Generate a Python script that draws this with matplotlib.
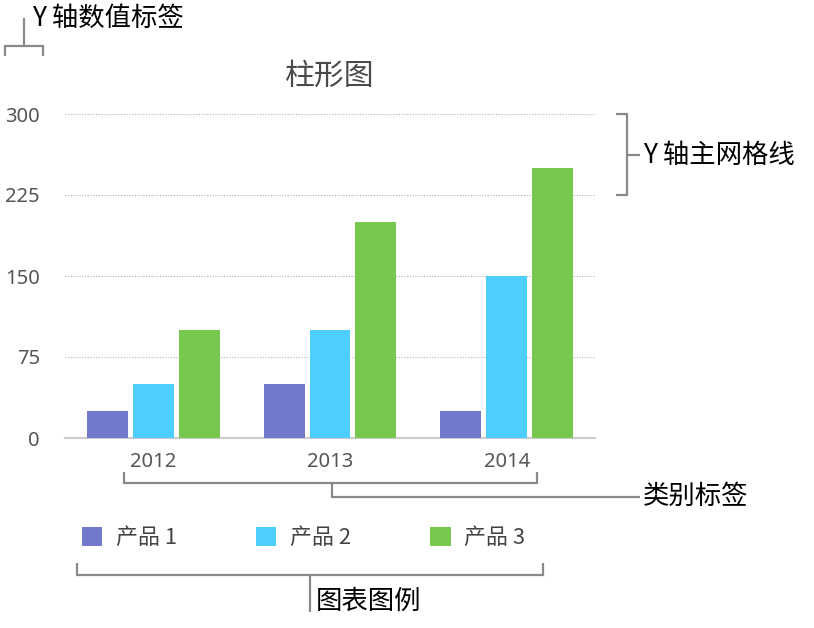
import matplotlib
matplotlib.use('Agg')
import matplotlib.pyplot as plt
import numpy as np
from matplotlib.lines import Line2D

plt.rcParams['font.family'] = ['Noto Sans CJK SC', 'DejaVu Sans']

# data
years = ['2012', '2013', '2014']
series_names = ['产品 1', '产品 2', '产品 3']
product1 = [25, 50, 25]
product2 = [50, 100, 150]
product3 = [100, 200, 250]
y_ticks = [0, 75, 150, 225, 300]
colors = ['#7278CC', '#4FCEFC', '#78C850']

W, H = 814, 628
fig = plt.figure(figsize=(W / 100, H / 100), dpi=100)
fig.patch.set_facecolor('white')


def fx(x):
    return x / W


def fy(y):
    return 1 - y / H


# axes placed in pixel terms: x 65..595, y 114..438
ax = fig.add_axes([fx(65), fy(438), (595 - 65) / W, (438 - 114) / H])

x = np.arange(len(years))
bw = 0.232
step = 0.26
for i, vals in enumerate([product1, product2, product3]):
    ax.bar(x + (i - 1) * step, vals, width=bw, color=colors[i],
           label=series_names[i], zorder=3)

ax.set_xlim(-0.5, 2.5)
ax.set_ylim(0, 300)
ax.set_yticks(y_ticks)
ax.set_yticklabels([str(v) for v in y_ticks], family='Noto Sans')
ax.set_xticks(x)
ax.set_xticklabels(years, family='Noto Sans')
ax.tick_params(axis='both', length=0, labelsize=14.5, labelcolor='#555555')
ax.tick_params(axis='y', pad=18)
ax.tick_params(axis='x', pad=10)

for s in ['top', 'right', 'left']:
    ax.spines[s].set_visible(False)
ax.spines['bottom'].set_color('#cccccc')
ax.spines['bottom'].set_linewidth(1.5)
ax.yaxis.grid(True, linestyle=(0, (1, 1.5)), color='#b0b0b0', linewidth=0.8, zorder=0)
ax.set_axisbelow(True)

fig.text(fx(330), fy(76), '柱形图', fontsize=21.5, color='#4a4a4a',
         ha='center', va='center')

leg = ax.legend(loc='center left', bbox_to_anchor=(fx(82), fy(538)),
                bbox_transform=fig.transFigure, ncol=3, frameon=False,
                fontsize=15.8, handlelength=0.93, handleheight=1.0,
                handletextpad=0.6, columnspacing=3.62, borderaxespad=0,
                borderpad=0)
for t in leg.get_texts():
    t.set_color('#444444')

# annotation brackets
bc = '#8a8a8a'
lw = 1.6


def seg(pts):
    xs = [fx(p[0]) for p in pts]
    ys = [fy(p[1]) for p in pts]
    fig.add_artist(Line2D(xs, ys, color=bc, linewidth=lw,
                          transform=fig.transFigure,
                          solid_joinstyle='miter', solid_capstyle='butt'))


ann_fs = 19

# Y axis value labels
seg([(5, 56), (5, 46), (43, 46), (43, 56)])
seg([(24, 46), (24, 18)])
fig.text(fx(32), fy(18), 'Y 轴数值标签', fontsize=ann_fs, color='black',
         ha='left', va='center')

# Y major gridlines
seg([(616, 114), (627, 114), (627, 195), (616, 195)])
seg([(627, 155), (640, 155)])
fig.text(fx(643), fy(155), 'Y 轴主网格线', fontsize=ann_fs, color='black',
         ha='left', va='center')

# category labels
seg([(124, 472), (124, 483), (537, 483), (537, 472)])
seg([(332, 483), (332, 497), (640, 497)])
fig.text(fx(643), fy(496), '类别标签', fontsize=ann_fs, color='black',
         ha='left', va='center')

# legend
seg([(77, 563), (77, 575), (543, 575), (543, 563)])
seg([(310, 575), (310, 612)])
fig.text(fx(316), fy(601), '图表图例', fontsize=ann_fs, color='black',
         ha='left', va='center')

fig.savefig('out.png', dpi=100, facecolor='white')
